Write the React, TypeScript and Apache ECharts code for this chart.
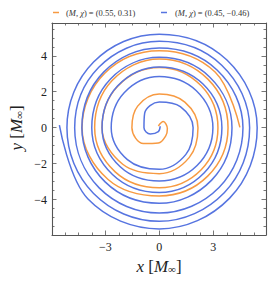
import React, { useEffect, useRef } from "react";
import * as echarts from "echarts";

// Spiral 1: (M, chi) = (0.55, 0.31), orange — crossings every 1/8 turn, from outer end inward (counter-clockwise)
const orangeSeries: [number, number][] = [
  [4.48, 0.02], [3.1, 3.1], [0, 4.28], [-3.03, 3.03],
  [-4.29, 0], [-2.86, -2.86], [0, -3.79], [2.69, -2.69],
  [3.82, 0], [2.7, 2.7], [0, 3.82], [-2.62, 2.62],
  [-3.59, 0], [-2.45, -2.45], [0, -3.33], [2.33, -2.33],
  [3.26, 0], [2.33, 2.33], [0, 3.35], [-2.31, 2.31],
  [-3.18, 0], [-2.03, -2.03], [0, -2.55], [1.66, -1.66],
  [2.15, 0], [1.42, 1.42], [0, 1.87], [-1.2, 1.2],
  [-1.52, 0], [-0.88, -0.88], [-0.05, -0.85], [0.36, -0.45],
  [0.45, -0.05], [0.22, 0.34], [-0.05, 0.1],
];
// Spiral 2: (M, chi) = (0.45, -0.46), blue
const blueSeries: [number, number][] = [
  [-5.55, 0.15], [-3.96, -3.96], [0, -5.62], [3.91, -3.91],
  [5.44, 0], [3.76, 3.76], [0, 5.2], [-3.65, 3.65],
  [-5.13, 0], [-3.65, -3.65], [0, -5.2], [3.61, -3.61],
  [5.02, 0], [3.47, 3.47], [0, 4.8], [-3.36, 3.36],
  [-4.7, 0], [-3.34, -3.34], [0, -4.74], [3.32, -3.32],
  [4.65, 0], [3.21, 3.21], [0, 4.43], [-3.09, 3.09],
  [-4.3, 0], [-3.01, -3.01], [0, -4.2], [2.91, -2.91],
  [4.04, 0], [2.81, 2.81], [0, 3.91], [-2.71, 2.71],
  [-3.75, 0], [-2.6, -2.6], [0, -3.6], [2.5, -2.5],
  [3.48, 0], [2.43, 2.43], [0, 3.38], [-2.32, 2.32],
  [-3.18, 0], [-2.17, -2.17], [0, -2.96], [2.1, -2.1],
  [2.98, 0], [2.06, 2.06], [0, 2.85], [-1.95, 1.95],
  [-2.67, 0], [-1.77, -1.77], [0, -2.31], [1.48, -1.48],
  [1.88, 0], [1.17, 1.17], [0, 1.43], [-0.81, 0.81],
  [-0.85, 0], [-0.5, -0.35], [-0.05, -0.22], [0.05, 0.08],
];

const xMajor = [-3, 0, 3];
const xMinor = [-5.25, -4.5, -3.75, -2.25, -1.5, -0.75, 0.75, 1.5, 2.25, 3.75, 4.5, 5.25];
const yMajor = [-4, -2, 0, 2, 4];
const yMinor = [-5.5, -5, -4.5, -3.5, -3, -2.5, -1.5, -1, -0.5, 0.5, 1, 1.5, 2.5, 3, 3.5, 4.5, 5, 5.5];

const legendLabels = ["({i|M}, {i|χ}) = (0.55, 0.31)", "({i|M}, {i|χ}) = (0.45, −0.46)"];
const colors = ["#f79a42", "#5674e0"];

const X_MIN = -5.96, X_MAX = 5.93, Y_MIN = -5.96, Y_MAX = 5.82;
const FONT = "Liberation Serif";
const frameColor = "#555";

const fmt = (v: number) => (v < 0 ? "\u2212" + Math.abs(v) : String(v));

export default function App() {
  const ref = useRef<HTMLDivElement>(null);
  useEffect(() => {
    if (!ref.current) return;
    const chart = echarts.init(ref.current, null, { renderer: "svg" });
    const grid = { left: 52, right: 10, top: 23, bottom: 47 };
    const xBase = (gi: number, pos: string, ticks: number[], len: number, label: boolean, line: boolean) => ({
      type: "value", gridIndex: gi, position: pos, min: X_MIN, max: X_MAX,
      axisLine: { show: line, onZero: false, lineStyle: { color: frameColor, width: 1.1 } },
      axisTick: { show: true, inside: true, length: len, customValues: ticks, lineStyle: { color: frameColor, width: 0.8 } },
      axisLabel: { show: label, customValues: ticks, formatter: fmt, fontFamily: FONT, fontSize: 12, color: "#222", margin: 6 },
      splitLine: { show: false },
    });
    const yBase = (gi: number, pos: string, ticks: number[], len: number, label: boolean, line: boolean) => ({
      type: "value", gridIndex: gi, position: pos, min: Y_MIN, max: Y_MAX,
      axisLine: { show: line, onZero: false, lineStyle: { color: frameColor, width: 1.1 } },
      axisTick: { show: true, inside: true, length: len, customValues: ticks, lineStyle: { color: frameColor, width: 0.8 } },
      axisLabel: { show: label, customValues: ticks, formatter: fmt, fontFamily: FONT, fontSize: 12, color: "#222", margin: 5 },
      splitLine: { show: false },
    });
    const italic = { fontStyle: "italic", fontFamily: FONT, fontSize: 8.5, fill: "#333" };
    const axisTitleRich = {
      i: { fontStyle: "italic", fontFamily: FONT, fontSize: 17, fill: "#222" },
      s: { fontFamily: FONT, fontSize: 11, fill: "#222", verticalAlign: "bottom", lineHeight: 8 },
    };
    chart.setOption({
      animation: false,
      grid: [grid, grid],
      xAxis: [
        xBase(0, "bottom", xMajor, 4.5, true, true),
        xBase(0, "top", xMajor, 4.5, false, true),
        xBase(1, "bottom", xMinor, 2.5, false, false),
        xBase(1, "top", xMinor, 2.5, false, false),
      ],
      yAxis: [
        yBase(0, "left", yMajor, 4.5, true, true),
        yBase(0, "right", yMajor, 4.5, false, true),
        yBase(1, "left", yMinor, 2.5, false, false),
        yBase(1, "right", yMinor, 2.5, false, false),
      ],
      series: [
        {
          type: "line", name: "orange", xAxisIndex: 0, yAxisIndex: 0, data: orangeSeries,
          smooth: 0.375, showSymbol: false, symbol: "none",
          lineStyle: { color: colors[0], width: 1.5 }, clip: true,
        },
        {
          type: "line", name: "blue", xAxisIndex: 0, yAxisIndex: 0, data: blueSeries,
          smooth: 0.375, showSymbol: false, symbol: "none",
          lineStyle: { color: colors[1], width: 1.5 }, clip: true,
        },
      ],
      graphic: [
        { type: "line", shape: { x1: 53, y1: 12.5, x2: 59, y2: 12.5 }, style: { stroke: colors[0], lineWidth: 1.5 } },
        { type: "text", x: 66, y: 12.5, style: { text: legendLabels[0], fontFamily: FONT, fontSize: 8.5, fill: "#333", verticalAlign: "middle", rich: { i: italic } } },
        { type: "line", shape: { x1: 161, y1: 12.5, x2: 167, y2: 12.5 }, style: { stroke: colors[1], lineWidth: 1.5 } },
        { type: "text", x: 175, y: 12.5, style: { text: legendLabels[1], fontFamily: FONT, fontSize: 8.5, fill: "#333", verticalAlign: "middle", rich: { i: italic } } },
        {
          type: "text", x: 159, y: 266,
          style: { text: "{i|x} [{i|M}{s|∞}]", align: "center", verticalAlign: "middle", fontFamily: FONT, fontSize: 17, fill: "#222", rich: axisTitleRich },
        },
        {
          type: "text", x: 16, y: 128, rotation: Math.PI / 2,
          style: { text: "{i|y} [{i|M}{s|∞}]", align: "center", verticalAlign: "middle", fontFamily: FONT, fontSize: 17, fill: "#222", rich: axisTitleRich },
        },
      ],
    });
    return () => chart.dispose();
  }, []);
  return <div ref={ref} style={{ width: 276, height: 282, position: "absolute", left: 0, top: 0 }} />;
}
